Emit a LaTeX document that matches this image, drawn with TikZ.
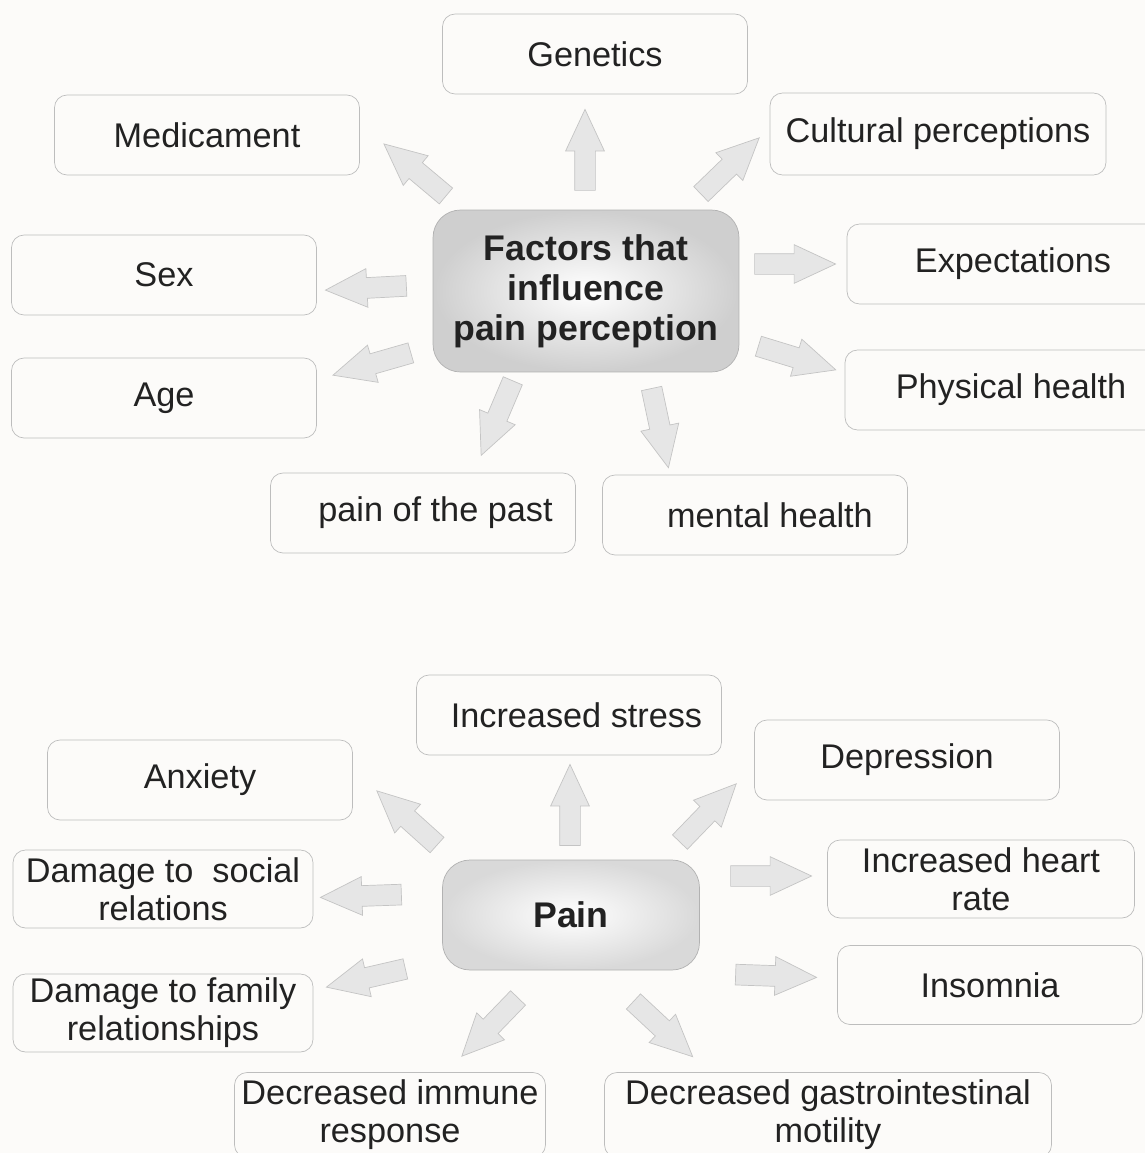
\documentclass[tikz,border=0pt]{standalone}
\usepackage{fontspec}
\setmainfont{Liberation Sans}
\usetikzlibrary{shapes.arrows}
\definecolor{paper}{HTML}{FCFBF9}
\definecolor{boxline}{HTML}{BDBDBD}
\definecolor{arrowfill}{HTML}{E6E6E6}
\definecolor{arrowline}{HTML}{C4C4C4}
\definecolor{ink}{HTML}{222222}

\begin{document}
\begin{tikzpicture}[x=0.02cm, y=-0.02cm,
	factor/.style={draw=boxline, fill=paper, rounded corners=0.25cm, minimum width=6.1cm, minimum height=1.6cm,
		inner sep=1pt, align=center, text=ink, font=\fontsize{19.5}{21.5}\selectfont},
	hub/.style={draw=gray!60, rounded corners=0.55cm, inner color=white, outer color=gray!38,
		align=center, text=ink, font=\fontsize{20.3}{22.8}\selectfont\bfseries},
	fat/.style={single arrow, draw=arrowline, fill=arrowfill, minimum height=1.62cm, minimum width=0.76cm,
		single arrow head extend=0.18cm, single arrow tip angle=50, inner xsep=0pt, inner ysep=0.2cm}]
	\clip (0,0) rectangle (1145,1153);
	\fill[paper] (0,0) rectangle (1145,1153);

	\node[hub, minimum width=6.12cm, minimum height=3.24cm] (fac) at (586,291) {Factors that\\influence\\pain perception};
	\node[factor] (gen) at (595,54) {Genetics};
	\node[factor] (med) at (207,135) {Medicament};
	\node[factor, minimum width=6.72cm, minimum height=1.64cm] (cul) at (938,134) {Cultural perceptions};
	\node[factor] (sex) at (164,275) {Sex};
	\node[factor] (age) at (164,398) {Age};
	\node[factor, minimum width=6.64cm] (expc) at (1013,264) {Expectations};
	\node[factor, minimum width=6.64cm] (phys) at (1011,390) {Physical health};
	\node[factor] (past) at (423,513) {\hspace{0.5cm}pain of the past};
	\node[factor] (ment) at (755,515) {\hspace{0.6cm}mental health};

	\node[hub, minimum width=5.14cm, minimum height=2.2cm, outer color=gray!30] (pain) at (571,915) {Pain};
	\node[factor] (strs) at (569,715) {\hspace{0.3cm}Increased stress};
	\node[factor] (anx) at (200,780) {Anxiety};
	\node[factor] (depr) at (907,760) {Depression};
	\node[factor, minimum width=6.0cm, minimum height=1.56cm] (soc) at (163,889) {Damage to~ social\\relations};
	\node[factor, minimum width=6.0cm, minimum height=1.56cm] (fam) at (163,1013) {Damage to family\\relationships};
	\node[factor, minimum width=6.14cm, minimum height=1.56cm] (heart) at (981,879) {Increased heart\\rate};
	\node[factor, minimum height=1.58cm] (insm) at (990,985) {Insomnia};
	\node[factor, minimum width=6.22cm, minimum height=1.7cm] (immu) at (390,1115) {Decreased immune\\response};
	\node[factor, minimum width=8.94cm, minimum height=1.7cm] (gast) at (828,1115) {Decreased gastrointestinal\\motility};

	\foreach \x/\y/\a [count=\i] in {585/150/90, 415/170/140, 730/166/44, 366/288/183, 372/364/196,
		795/264/0, 797/358/-17, 497/418/-113, 660/428/-78,
		570/805/90, 407/818/138, 361/896/182, 366/978/193, 708/813/46,
		771/876/0, 776/976/-2, 490/1027/-134, 663/1029/-43}
		\node[fat, rotate=\a, xshift=-0.22cm] (arr\i) at (\x,\y) {};
\end{tikzpicture}
\end{document}
